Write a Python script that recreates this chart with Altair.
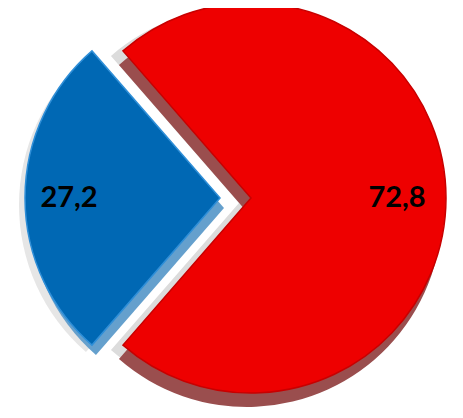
import math
import altair as alt
import pandas as pd

# data
categories = ["Rot", "Blau"]
values = [72.8, 27.2]
face_colors = ["#ee0000", "#0068b4"]

cum = []
s = 0.0
for v in values:
    cum.append(s)
    s += v
df = pd.DataFrame({
    "cat": categories,
    "value": values,
    "start": cum,
    "end": [c + v for c, v in zip(cum, values)],
})
df["mid"] = (df["start"] + df["end"]) / 2
df["label"] = [f"{v:.1f}".replace(".", ",") for v in values]

r0 = -math.radians(41.04)
theta_scale = alt.Scale(domain=[0, 100], range=[r0, r0 + 2 * math.pi])
R = 195

base = alt.Chart(df)

red_c = (243, 190)
blue_c = (212, 190)


def arc(cat, cx, cy, color, stroke=None, sw=0):
    kw = dict(radius=R, color=color)
    if stroke:
        kw.update(stroke=stroke, strokeWidth=sw)
    return base.transform_filter(alt.datum.cat == cat).mark_arc(**kw).encode(
        theta=alt.Theta("start:Q", scale=theta_scale),
        theta2="end:Q",
        x=alt.value(cx),
        y=alt.value(cy),
    )


def label(cat, cx, cy, r):
    return base.transform_filter(alt.datum.cat == cat).mark_text(
        font="Lato", fontWeight="bold", fontSize=29, color="black",
        align="center", baseline="middle",
    ).encode(
        theta=alt.Theta("mid:Q", scale=theta_scale),
        radius=alt.value(r),
        x=alt.value(cx),
        y=alt.value(cy),
        text="label:N",
    )


layers = [
    arc("Rot", red_c[0] - 12, red_c[1] + 5, "#dcdcdc"),
    arc("Blau", blue_c[0] - 6, blue_c[1] + 7, "#e6e6e6"),
    arc("Rot", red_c[0] - 4, red_c[1] + 14, "#9a4e4e"),
    arc("Blau", blue_c[0] + 4, blue_c[1] + 10, "#65a0cd"),
    arc("Rot", red_c[0], red_c[1], face_colors[0], "#c80000", 1.5),
    arc("Blau", blue_c[0], blue_c[1], face_colors[1], "#2f8fd8", 1.5),
    label("Blau", blue_c[0], blue_c[1], 151),
    label("Rot", red_c[0], red_c[1], 146),
]

chart = alt.layer(*layers).properties(
    width=447, height=402,
    autosize=alt.AutoSizeParams(type="none"),
    padding=0,
).configure_view(stroke=None)

chart.save("out.html", embed_options={"renderer": "svg", "actions": False})
